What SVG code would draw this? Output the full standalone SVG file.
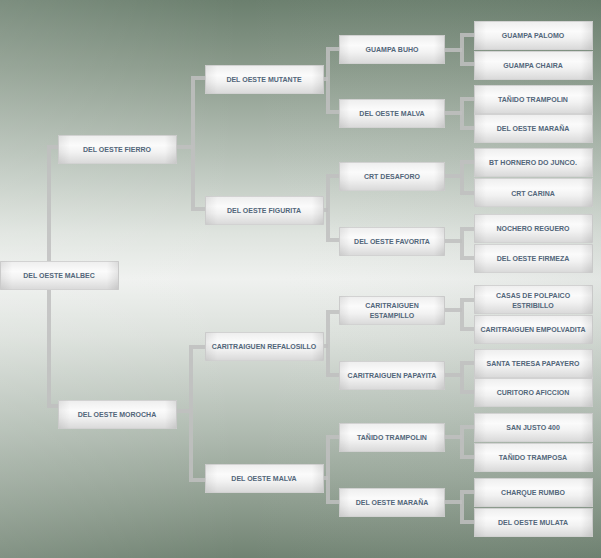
<svg xmlns="http://www.w3.org/2000/svg" width="601" height="558" viewBox="0 0 601 558">
<defs>
<linearGradient id="bg" x1="0" y1="0" x2="0" y2="1">
<stop offset="0" stop-color="#6b7f6e"/>
<stop offset="0.12" stop-color="#8a9a8b"/>
<stop offset="0.28" stop-color="#b6c1b7"/>
<stop offset="0.42" stop-color="#dfe4df"/>
<stop offset="0.5" stop-color="#eff1ef"/>
<stop offset="0.6" stop-color="#dce1dc"/>
<stop offset="0.76" stop-color="#b3beb4"/>
<stop offset="0.9" stop-color="#8e9d8f"/>
<stop offset="1" stop-color="#718373"/>
</linearGradient>
<linearGradient id="bgside" x1="0" y1="0" x2="1" y2="0">
<stop offset="0" stop-color="#ffffff" stop-opacity="0.12"/>
<stop offset="0.4" stop-color="#ffffff" stop-opacity="0"/>
<stop offset="1" stop-color="#52665a" stop-opacity="0.08"/>
</linearGradient>
<linearGradient id="boxv" x1="0" y1="0" x2="0" y2="1">
<stop offset="0" stop-color="#eeeeee"/>
<stop offset="0.35" stop-color="#fbfbfb"/>
<stop offset="0.6" stop-color="#f2f2f2"/>
<stop offset="1" stop-color="#d9d9d9"/>
</linearGradient>
<linearGradient id="boxh" x1="0" y1="0" x2="1" y2="0">
<stop offset="0" stop-color="#000" stop-opacity="0.07"/>
<stop offset="0.1" stop-color="#000" stop-opacity="0"/>
<stop offset="0.9" stop-color="#000" stop-opacity="0"/>
<stop offset="1" stop-color="#000" stop-opacity="0.09"/>
</linearGradient>
<style>
.c{fill:none;stroke:#c0c0c0;stroke-opacity:0.85;stroke-width:4}
.b{fill:url(#boxv);stroke:#d2d2d2;stroke-width:1}
.s{fill:url(#boxh);stroke:none}
.t{font-family:"Liberation Sans",Arial,sans-serif;font-weight:bold;font-size:7px;fill:#52667a;text-anchor:middle}
</style>
</defs>
<rect x="0" y="0" width="601" height="558" fill="url(#bg)"/>
<rect x="0" y="0" width="601" height="558" fill="url(#bgside)"/>

<g id="connectors">
<path class="c" d="M58,147 H49 V406 H58"/>
<path class="c" d="M176,147 H193"/>
<path class="c" d="M205,78 H193 V209 H205"/>
<path class="c" d="M176,411 H191"/>
<path class="c" d="M205,347 H191 V480 H205"/>
<path class="c" d="M323,79 H328"/>
<path class="c" d="M339,49 H328 V112 H339"/>
<path class="c" d="M323,210 H328"/>
<path class="c" d="M339,176 H328 V240 H339"/>
<path class="c" d="M323,346 H328"/>
<path class="c" d="M339,312 H328 V375 H339"/>
<path class="c" d="M323,478 H328"/>
<path class="c" d="M339,437 H328 V502 H339"/>
<path class="c" d="M444,50 H462"/>
<path class="c" d="M474,35 H462 V64 H474"/>
<path class="c" d="M444,113 H462"/>
<path class="c" d="M474,99 H462 V128 H474"/>
<path class="c" d="M444,176 H462"/>
<path class="c" d="M474,162 H462 V193 H474"/>
<path class="c" d="M444,241 H462"/>
<path class="c" d="M474,229 H462 V258 H474"/>
<path class="c" d="M444,310 H462"/>
<path class="c" d="M474,300 H462 V329 H474"/>
<path class="c" d="M444,375 H462"/>
<path class="c" d="M474,363 H462 V392 H474"/>
<path class="c" d="M444,437 H462"/>
<path class="c" d="M474,427 H462 V457 H474"/>
<path class="c" d="M444,502 H462"/>
<path class="c" d="M474,492 H462 V522 H474"/>
</g>

<g id="n0"><rect class="b" x="0.5" y="261.5" width="118" height="28"/><rect class="s" x="0.5" y="261.5" width="118" height="28"/><text class="t" x="59" y="278">DEL OESTE MALBEC</text></g>

<g id="n1"><rect class="b" x="58.5" y="135.5" width="118" height="28"/><rect class="s" x="58.5" y="135.5" width="118" height="28"/><text class="t" x="117" y="152">DEL OESTE FIERRO</text></g>
<g id="n2"><rect class="b" x="58.5" y="400.5" width="118" height="28"/><rect class="s" x="58.5" y="400.5" width="118" height="28"/><text class="t" x="117" y="417">DEL OESTE MOROCHA</text></g>

<g id="n3"><rect class="b" x="205.5" y="65.5" width="118" height="28"/><rect class="s" x="205.5" y="65.5" width="118" height="28"/><text class="t" x="264" y="82">DEL OESTE MUTANTE</text></g>
<g id="n4"><rect class="b" x="205.5" y="196.5" width="118" height="28"/><rect class="s" x="205.5" y="196.5" width="118" height="28"/><text class="t" x="264" y="213">DEL OESTE FIGURITA</text></g>
<g id="n5"><rect class="b" x="205.5" y="332.5" width="118" height="28"/><rect class="s" x="205.5" y="332.5" width="118" height="28"/><text class="t" x="264" y="349">CARITRAIGUEN REFALOSILLO</text></g>
<g id="n6"><rect class="b" x="205.5" y="464.5" width="118" height="28"/><rect class="s" x="205.5" y="464.5" width="118" height="28"/><text class="t" x="264" y="481">DEL OESTE MALVA</text></g>

<g id="n7"><rect class="b" x="339.5" y="35.5" width="105" height="28"/><rect class="s" x="339.5" y="35.5" width="105" height="28"/><text class="t" x="392" y="52">GUAMPA BUHO</text></g>
<g id="n8"><rect class="b" x="339.5" y="99.5" width="105" height="28"/><rect class="s" x="339.5" y="99.5" width="105" height="28"/><text class="t" x="392" y="116">DEL OESTE MALVA</text></g>
<g id="n9"><rect class="b" x="339.5" y="162.5" width="105" height="28"/><rect class="s" x="339.5" y="162.5" width="105" height="28"/><text class="t" x="392" y="179">CRT DESAFORO</text></g>
<g id="n10"><rect class="b" x="339.5" y="227.5" width="105" height="28"/><rect class="s" x="339.5" y="227.5" width="105" height="28"/><text class="t" x="392" y="244">DEL OESTE FAVORITA</text></g>
<g id="n11"><rect class="b" x="339.5" y="296.5" width="105" height="28"/><rect class="s" x="339.5" y="296.5" width="105" height="28"/><text class="t" x="392" y="307.5">CARITRAIGUEN</text><text class="t" x="392" y="317.5">ESTAMPILLO</text></g>
<g id="n12"><rect class="b" x="339.5" y="361.5" width="105" height="28"/><rect class="s" x="339.5" y="361.5" width="105" height="28"/><text class="t" x="392" y="378">CARITRAIGUEN PAPAYITA</text></g>
<g id="n13"><rect class="b" x="339.5" y="423.5" width="105" height="28"/><rect class="s" x="339.5" y="423.5" width="105" height="28"/><text class="t" x="392" y="440">TAÑIDO TRAMPOLIN</text></g>
<g id="n14"><rect class="b" x="339.5" y="488.5" width="105" height="28"/><rect class="s" x="339.5" y="488.5" width="105" height="28"/><text class="t" x="392" y="505">DEL OESTE MARAÑA</text></g>

<g id="n15"><rect class="b" x="474.5" y="21.5" width="118" height="28"/><rect class="s" x="474.5" y="21.5" width="118" height="28"/><text class="t" x="533" y="38">GUAMPA PALOMO</text></g>
<g id="n16"><rect class="b" x="474.5" y="51.5" width="118" height="28"/><rect class="s" x="474.5" y="51.5" width="118" height="28"/><text class="t" x="533" y="68">GUAMPA CHAIRA</text></g>
<g id="n17"><rect class="b" x="474.5" y="85.5" width="118" height="28"/><rect class="s" x="474.5" y="85.5" width="118" height="28"/><text class="t" x="533" y="102">TAÑIDO TRAMPOLIN</text></g>
<g id="n18"><rect class="b" x="474.5" y="114.5" width="118" height="28"/><rect class="s" x="474.5" y="114.5" width="118" height="28"/><text class="t" x="533" y="131">DEL OESTE MARAÑA</text></g>
<g id="n19"><rect class="b" x="474.5" y="148.5" width="118" height="28"/><rect class="s" x="474.5" y="148.5" width="118" height="28"/><text class="t" x="533" y="165">BT HORNERO DO JUNCO.</text></g>
<g id="n20"><rect class="b" x="474.5" y="178.5" width="118" height="28"/><rect class="s" x="474.5" y="178.5" width="118" height="28"/><text class="t" x="533" y="195.5">CRT CARINA</text></g>
<g id="n21"><rect class="b" x="474.5" y="214.5" width="118" height="28"/><rect class="s" x="474.5" y="214.5" width="118" height="28"/><text class="t" x="533" y="231">NOCHERO REGUERO</text></g>
<g id="n22"><rect class="b" x="474.5" y="244.5" width="118" height="28"/><rect class="s" x="474.5" y="244.5" width="118" height="28"/><text class="t" x="533" y="261">DEL OESTE FIRMEZA</text></g>
<g id="n23"><rect class="b" x="474.5" y="285.5" width="118" height="28"/><rect class="s" x="474.5" y="285.5" width="118" height="28"/><text class="t" x="533" y="297.5">CASAS DE POLPAICO</text><text class="t" x="533" y="307.5">ESTRIBILLO</text></g>
<g id="n24"><rect class="b" x="474.5" y="315.5" width="118" height="28"/><rect class="s" x="474.5" y="315.5" width="118" height="28"/><text class="t" x="533" y="332">CARITRAIGUEN EMPOLVADITA</text></g>
<g id="n25"><rect class="b" x="474.5" y="349.5" width="118" height="28"/><rect class="s" x="474.5" y="349.5" width="118" height="28"/><text class="t" x="533" y="366">SANTA TERESA PAPAYERO</text></g>
<g id="n26"><rect class="b" x="474.5" y="378.5" width="118" height="28"/><rect class="s" x="474.5" y="378.5" width="118" height="28"/><text class="t" x="533" y="395">CURITORO AFICCION</text></g>
<g id="n27"><rect class="b" x="474.5" y="413.5" width="118" height="28"/><rect class="s" x="474.5" y="413.5" width="118" height="28"/><text class="t" x="533" y="430">SAN JUSTO 400</text></g>
<g id="n28"><rect class="b" x="474.5" y="443.5" width="118" height="28"/><rect class="s" x="474.5" y="443.5" width="118" height="28"/><text class="t" x="533" y="460">TAÑIDO TRAMPOSA</text></g>
<g id="n29"><rect class="b" x="474.5" y="478.5" width="118" height="28"/><rect class="s" x="474.5" y="478.5" width="118" height="28"/><text class="t" x="533" y="495">CHARQUE RUMBO</text></g>
<g id="n30"><rect class="b" x="474.5" y="508.5" width="118" height="28"/><rect class="s" x="474.5" y="508.5" width="118" height="28"/><text class="t" x="533" y="525">DEL OESTE MULATA</text></g>
</svg>
